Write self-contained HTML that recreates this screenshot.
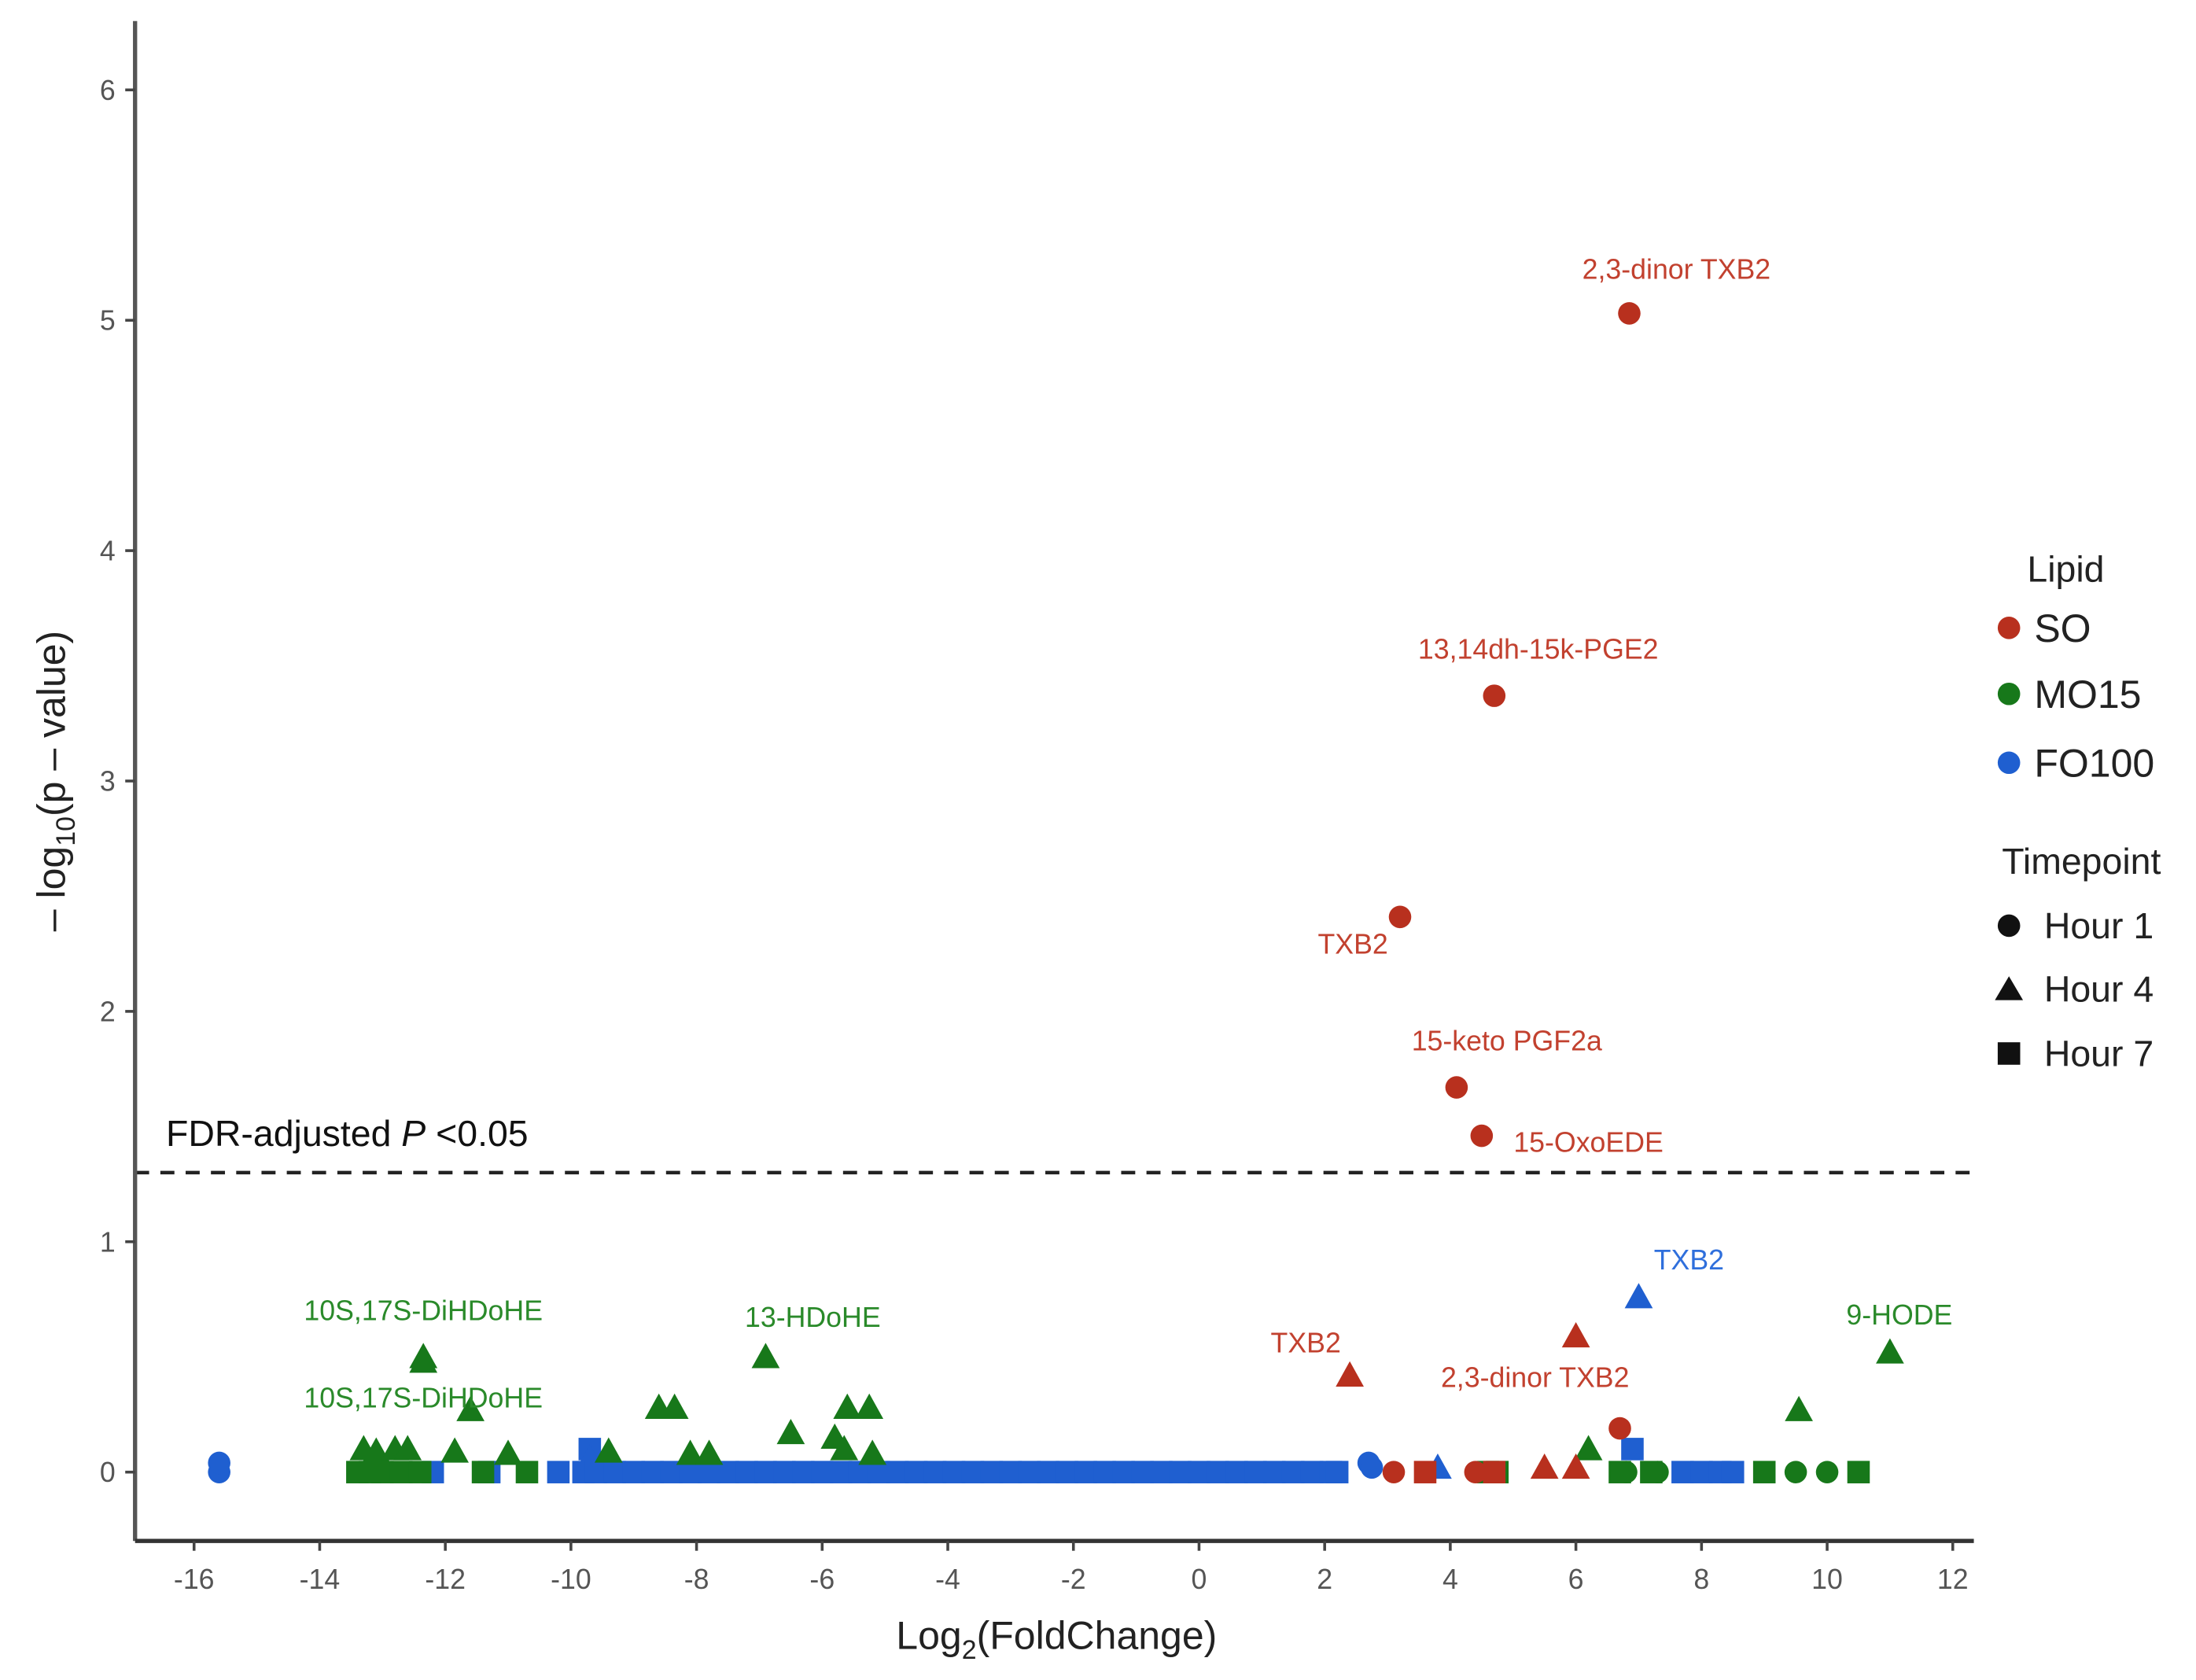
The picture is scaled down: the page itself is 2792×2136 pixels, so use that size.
<!DOCTYPE html>
<html><head><meta charset="utf-8"><style>
html,body{margin:0;padding:0;background:#fff}
svg{display:block}
text{font-family:"Liberation Sans",sans-serif}
</style></head><body>
<svg id="chart" width="2792" height="2136" viewBox="0 0 1563 1196" xmlns="http://www.w3.org/2000/svg">
<g id="plot"></g>
<g id="axes"></g>
<g id="legend">
  <text x="1443" y="414" font-size="26" fill="#222">Lipid</text>
  <circle cx="1430" cy="447" r="8" fill="#b8301e"/>
  <text x="1448" y="457" font-size="28" fill="#222">SO</text>
  <circle cx="1430" cy="494" r="8" fill="#17781a"/>
  <text x="1448" y="504" font-size="28" fill="#222">MO15</text>
  <circle cx="1430" cy="543" r="8" fill="#1f5fd0"/>
  <text x="1448" y="553" font-size="28" fill="#222">FO100</text>
  <text x="1425" y="622" font-size="26" fill="#222">Timepoint</text>
  <circle cx="1430" cy="659" r="8" fill="#111"/>
  <text x="1455" y="668" font-size="26" fill="#222">Hour 1</text>
  <polygon points="1430,695 1440,712 1420,712" fill="#111"/>
  <text x="1455" y="713" font-size="26" fill="#222">Hour 4</text>
  <rect x="1422" y="742" width="16" height="16" fill="#111"/>
  <text x="1455" y="759" font-size="26" fill="#222">Hour 7</text>
</g>
</svg>
<script>
const xTicks=[-16,-14,-12,-10,-8,-6,-4,-2,0,2,4,6,8,10,12];
const yTicks=[0,1,2,3,4,5,6];
const threshold=1.3;
// lipid: 0=SO,1=MO15,2=FO100 ; time: 1,4,7
const soFC=[6.85,4.7,3.2,4.1,4.5,6.7,6.0,2.4,3.1,4.4,3.6,4.7,5.5,6.0];
const soP=[5.03,3.37,2.41,1.67,1.46,0.19,0.59,0.42,0,0,0,0,0.02,0.02];
const soTime=[1,1,1,1,1,1,4,4,1,1,7,7,4,4];
const moFC=[-12.35,-12.35,-6.9,11.0,9.55,-11.6,-8.6,-8.35,-5.6,-5.25,-6.5,-5.8,-5.65,-13.3,-13.1,-12.8,-12.6,-11.85,-11.0,-9.4,-8.1,-7.8,-5.2,6.2,-13.4,-13.2,-13.0,-12.7,-12.4,-11.4,-10.7,4.6,6.8,7.3,9.5,6.7,7.2,9.0,10.5,10.0,4.75];
const moP=[0.5,0.48,0.5,0.52,0.27,0.27,0.28,0.28,0.28,0.28,0.17,0.15,0.1,0.1,0.09,0.1,0.1,0.09,0.08,0.09,0.08,0.08,0.08,0.1,0,0,0,0,0,0,0,0,0,0,0,0,0,0,0,0,0];
const moTime=[4,4,4,4,4,4,4,4,4,4,4,4,4,4,4,4,4,4,4,4,4,4,4,4,7,7,7,7,7,7,7,7,1,1,1,7,7,7,7,1,7];
const foFC=[7.0,6.9,3.8,-15.6,-15.6,2.7,2.75,-9.7,-9.7,7.7,8.0,8.3,8.5,-12.2,-11.3,-10.2,-9.8,-9.6,-9.3,-9.0,-8.7,-8.4,-8.1,-7.8,-7.5,-7.2,-6.9,-6.6,-6.3,-6.0,-5.7,-5.4,-5.1,-4.8,-4.5,-4.2,-3.9,-3.6,-3.3,-3.0,-2.7,-2.4,-2.1,-1.8,-1.5,-1.2,-0.9,-0.6,-0.3,0.0,0.3,0.6,0.9,1.2,1.5,1.8,2.1,2.2];
const foP=[0.76,0.1,0.02,0.0,0.04,0.04,0.02,0.1,0.06,0,0,0,0,0,0,0,0,0,0,0,0,0,0,0,0,0,0,0,0,0,0,0,0,0,0,0,0,0,0,0,0,0,0,0,0,0,0,0,0,0,0,0,0,0,0,0,0,0];
const foTime=[4,7,4,1,1,1,1,7,4,7,7,7,7,7,7,7,7,7,7,7,7,7,7,7,7,7,7,7,7,7,7,7,7,7,7,7,7,7,7,7,7,7,7,7,7,7,7,7,7,7,7,7,7,7,7,7,7,7];
const lblText=["2,3-dinor TXB2","13,14dh-15k-PGE2","TXB2","15-keto PGF2a","15-OxoEDE","TXB2","TXB2","2,3-dinor TXB2","10S,17S-DiHDoHE","10S,17S-DiHDoHE","13-HDoHE","9-HODE"];
const lblLipid=[0,0,0,0,0,2,0,0,1,1,1,1];
const lblX=[7.6,5.4,2.45,4.9,6.2,7.8,1.7,5.35,-12.35,-12.35,-6.15,11.15];
const lblY=[5.18,3.53,2.25,1.83,1.39,0.88,0.52,0.37,0.66,0.28,0.63,0.64];

const colors=["#b8301e","#17781a","#1f5fd0"];
const lblColors=["#c2412f","#2a8a2a","#2f6fdc"];
const L=96,R=1405,T=15,B=1097;
const X=v=>138+(v+16)*(1390-138)/28;
const Y=v=>1048-v*164;
const NS="http://www.w3.org/2000/svg";
function mk(tag,attrs,parent){const e=document.createElementNS(NS,tag);for(const k in attrs)e.setAttribute(k,attrs[k]);parent.appendChild(e);return e;}
const plot=document.getElementById('plot'),axes=document.getElementById('axes');

let th=mk('line',{x1:L,x2:R,y1:Y(threshold),y2:Y(threshold),stroke:'#222','stroke-width':2.5,'stroke-dasharray':'10 8'},plot);


let tt=mk('text',{x:118,y:Y(threshold)-19,'font-size':26,fill:'#111'},plot);
tt.innerHTML='FDR-adjusted <tspan font-style="italic">P</tspan> &lt;0.05';



function drawSeries(fc,p,time,lipid){
  for(let i=0;i<fc.length;i++){
    const cx=X(fc[i]),cy=Y(p[i]),c=colors[lipid];let e;
    if(time[i]===1)e=mk('circle',{cx:cx,cy:cy,r:8,fill:c},plot);
    else if(time[i]===4)e=mk('polygon',{points:`${cx},${cy-10} ${cx+10},${cy+8} ${cx-10},${cy+8}`,fill:c},plot);
    else e=mk('rect',{x:cx-8,y:cy-8,width:16,height:16,fill:c},plot);
    
    
  }
}
drawSeries(foFC,foP,foTime,2);
drawSeries(moFC,moP,moTime,1);
drawSeries(soFC,soP,soTime,0);

lblText.forEach((t,i)=>{
  const e=mk('text',{x:X(lblX[i]),y:Y(lblY[i]),'font-size':20,fill:lblColors[lblLipid[i]],'text-anchor':'middle'},plot);
  e.textContent=t;
  
  
});

let ya=mk('line',{x1:L,x2:L,y1:T,y2:B,stroke:'#555','stroke-width':3},axes);


let xa=mk('line',{x1:L,x2:R,y1:B,y2:B,stroke:'#333','stroke-width':3},axes);


xTicks.forEach(v=>{
  const t=mk('line',{x1:X(v),x2:X(v),y1:B,y2:B+7,stroke:'#444','stroke-width':2},axes);
  
  
  const l=mk('text',{x:X(v),y:B+34,'font-size':20,fill:'#555','text-anchor':'middle'},axes);
  l.textContent=v;
  
  
});
yTicks.forEach(v=>{
  const t=mk('line',{x1:L-7,x2:L,y1:Y(v),y2:Y(v),stroke:'#444','stroke-width':2},axes);
  
  
  const l=mk('text',{x:L-14,y:Y(v)+7,'font-size':20,fill:'#555','text-anchor':'end'},axes);
  l.textContent=v;
  
  
});
let xt=mk('text',{x:752,y:1174,'font-size':28,fill:'#222','text-anchor':'middle'},axes);
xt.innerHTML='Log<tspan font-size="19" dy="7">2</tspan><tspan dy="-7">(FoldChange)</tspan>';


let yt=mk('text',{transform:'translate(46,556) rotate(-90)','font-size':28,fill:'#222','text-anchor':'middle'},axes);
yt.innerHTML='– log<tspan font-size="19" dy="7">10</tspan><tspan dy="-7">(p – value)</tspan>';


</script>
</body></html>
